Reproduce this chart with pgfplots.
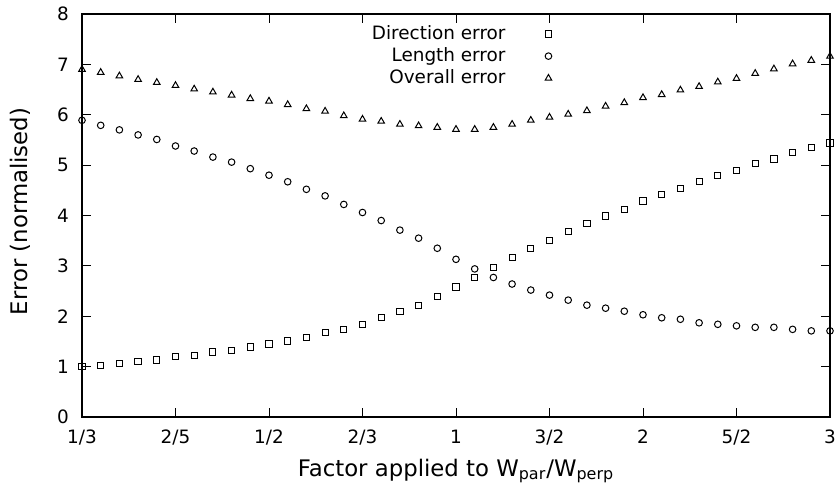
\documentclass[border=0pt]{standalone}
\usepackage{fontspec}
\setmainfont{DejaVu Sans}
\usepackage{pgfplots}
\pgfplotsset{compat=1.18}
\usepackage{pgfplotstable}

% x: 1-1/f for f<1, f-1 for f>=1 (gives the evenly spaced factor ticks)
\pgfplotstableread{
x     dir   len   all
-2.0  1.00  5.89  6.90
-1.9  1.03  5.79  6.84
-1.8  1.07  5.70  6.77
-1.7  1.10  5.60  6.70
-1.6  1.13  5.51  6.64
-1.5  1.20  5.38  6.58
-1.4  1.22  5.28  6.51
-1.3  1.29  5.16  6.45
-1.2  1.32  5.06  6.39
-1.1  1.39  4.93  6.32
-1.0  1.45  4.80  6.27
-0.9  1.51  4.67  6.20
-0.8  1.58  4.52  6.12
-0.7  1.68  4.39  6.07
-0.6  1.74  4.22  5.98
-0.5  1.84  4.06  5.91
-0.4  1.97  3.90  5.87
-0.3  2.10  3.71  5.81
-0.2  2.22  3.55  5.78
-0.1  2.39  3.35  5.75
 0.0  2.58  3.13  5.71
 0.1  2.77  2.94  5.71
 0.2  2.96  2.77  5.75
 0.3  3.16  2.64  5.81
 0.4  3.35  2.52  5.89
 0.5  3.51  2.42  5.95
 0.6  3.68  2.32  6.01
 0.7  3.84  2.22  6.08
 0.8  3.99  2.16  6.17
 0.9  4.12  2.10  6.24
 1.0  4.29  2.03  6.34
 1.1  4.41  1.97  6.40
 1.2  4.54  1.94  6.49
 1.3  4.67  1.87  6.56
 1.4  4.80  1.84  6.65
 1.5  4.90  1.81  6.72
 1.6  5.03  1.78  6.82
 1.7  5.12  1.78  6.91
 1.8  5.25  1.74  7.01
 1.9  5.35  1.71  7.08
 2.0  5.44  1.71  7.16
}\errdata

\begin{document}
\begin{tikzpicture}
\begin{axis}[
  scale only axis,
  width=374pt, height=201.5pt,
  font=\fontsize{9.2}{11}\selectfont,
  xmin=-2, xmax=2, ymin=0, ymax=8,
  xtick={-2,-1.5,...,2},
  xticklabels={1/3,2/5,1/2,2/3,1,3/2,2,5/2,3},
  ytick={0,1,...,8},
  /pgf/number format/assume math mode=true,
  tick align=inside,
  major tick length=4.5pt,
  xticklabel shift=3pt,
  yticklabel shift=3pt,
  axis line style={line width=0.6pt},
  tick style={line width=0.5pt, black},
  clip=false,
  every axis y label/.style={at={(axis description cs:0,0.51)}, xshift=-31pt, rotate=90, anchor=center,
    font=\fontsize{11.4}{13}\selectfont},
  every axis x label/.style={at={(axis description cs:0.5,0)}, anchor=center, yshift=-27pt,
    font=\fontsize{11.4}{13}\selectfont},
  xlabel={Factor applied to W\textsubscript{par}/W\textsubscript{perp}},
  ylabel={Error (normalised)},
  legend plot pos=right,
  legend cell align=right,
  legend style={draw=none, fill=none, at={(rel axis cs:0.6366,0.9925)}, anchor=north east,
    row sep=-1.4pt, font=\fontsize{9.2}{11}\selectfont},
  legend image code/.code={\path[draw=none, fill=none] (0pt,0pt) rectangle (0.01pt,0.01pt);
    \draw[#1] plot coordinates {(19.5pt,0pt)};},
]
\addplot[only marks, mark=square, mark size=1.55pt, line width=0.5pt] table[x=x, y=dir] {\errdata};
\addlegendentry{Direction error}
\addplot[only marks, mark=o, mark size=1.65pt, line width=0.5pt] table[x=x, y=len] {\errdata};
\addlegendentry{Length error}
\addplot[only marks, mark=triangle, mark size=1.9pt, line width=0.5pt] table[x=x, y=all] {\errdata};
\addlegendentry{Overall error}
\end{axis}
\pgfresetboundingbox
\path (-41pt,-38pt) rectangle (377.5pt,208.5pt);
\end{tikzpicture}
\end{document}
